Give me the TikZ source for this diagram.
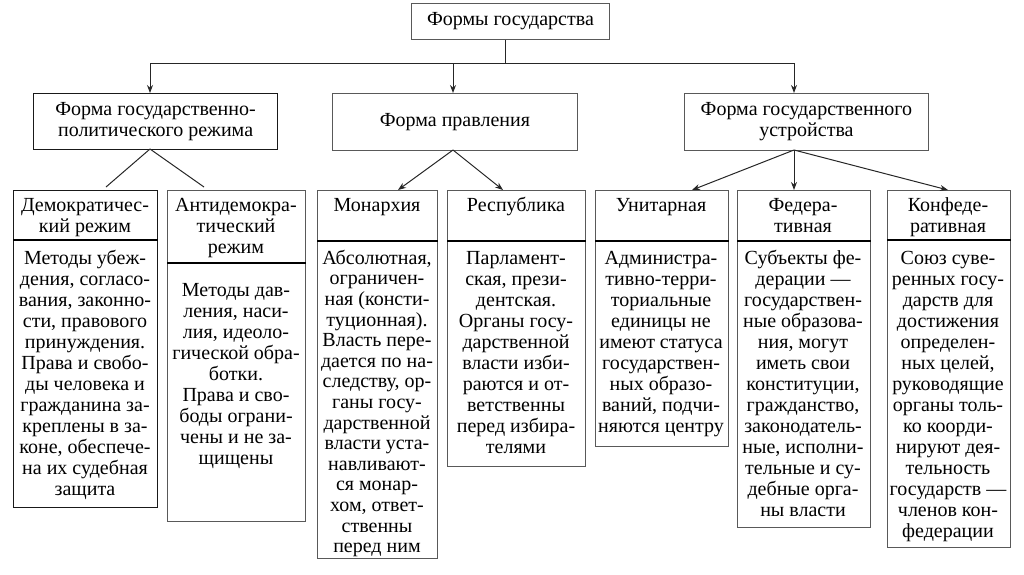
\documentclass[tikz,border=0pt]{standalone}
\usepackage{fontspec}
\setmainfont{Liberation Serif}
\usetikzlibrary{arrows.meta}
\tikzset{
  box/.style={draw=black!65, line width=0.9pt, rectangle, inner sep=0pt, anchor=north west},
  darkbox/.style={box, draw=black!90, line width=1.2pt},
  divider/.style={line width=1.6pt, draw=black},
  txt/.style={font=\fontsize{20}{21}\selectfont, align=center, inner sep=0pt},
  coltxt/.style={txt, anchor=north},
  conn/.style={line width=1pt, draw=black!85},
  arr/.style={conn, -{Stealth[length=8pt,width=6pt]}},
}
\newcommand{\fs}{\rule{0pt}{16pt}}
\newcommand{\colbox}[7]{%
  \node[#7, minimum width=#3-#2, minimum height=#5-#4] (h#1) at (#2,#4) {};
  \node[#7, minimum width=#3-#2, minimum height=#6-#5] (b#1) at (#2,#5) {};
  \draw[divider] (b#1.north west) -- (b#1.north east);
}
\begin{document}
\begin{tikzpicture}[x=1pt, y=-1pt]
\useasboundingbox (0,0) rectangle (1024,574);
% level 1
\node[box, txt, minimum width=198, minimum height=36] (top) at (411,3) {Формы государства};
% level 2
\node[darkbox, txt, minimum width=244, minimum height=56] (la) at (33,93) {Форма государственно-\\политического режима};
\node[box, txt, minimum width=245, minimum height=57] (lb) at (332,93) {Форма правления};
\node[box, txt, minimum width=244, minimum height=57] (lc) at (684,93) {Форма государственного\\устройства};
% top connectors
\coordinate (hb) at (505,63);
\coordinate (hl) at (150,63);
\coordinate (hmid) at (453,63);
\coordinate (hr) at (794,63);
\draw[conn] (hb |- top.south) -- (hb);
\draw[conn] (hl) -- (hr);
\draw[arr] (hl) -- (hl |- la.north);
\draw[arr] (hmid) -- (hmid |- lb.north);
\draw[arr] (hr) -- (hr |- lc.north);
% level 3 boxes
\colbox{1}{13}{157}{190}{240}{507}{darkbox}
\colbox{2}{167}{305}{190}{263}{521}{box}
\colbox{3}{317}{437}{190}{241}{558}{box}
\colbox{4}{447}{585}{190}{241}{466}{box}
\colbox{5}{595}{728}{190}{241}{446}{box}
\colbox{6}{737}{870}{190}{241}{527}{box}
\colbox{7}{887}{1010}{190}{240}{547}{box}
% level 2 -> level 3 connectors
\coordinate (las) at (150,149);
\coordinate (lbs) at (453,150);
\coordinate (lcs) at (794,150);
\coordinate (e1) at (106,187);
\coordinate (e2) at (204,187);
\coordinate (e3) at (398,190);
\coordinate (e4) at (503,190);
\coordinate (e5) at (692,190);
\coordinate (e7) at (948,190);
\draw[conn] (las) -- (e1);
\draw[conn] (las) -- (e2);
\draw[arr] (lbs) -- (e3);
\draw[arr] (lbs) -- (e4);
\draw[arr] (lcs) -- (e5);
\draw[arr] (lcs) -- (lcs |- h6.north);
\draw[arr] (lcs) -- (e7);
% header texts (first baseline ~211)
\node[coltxt] (t1) at (85,195) {\fs Демократичес-\\кий режим};
\node[coltxt] (t2) at (236,195) {\fs Антидемокра-\\тический\\режим};
\node[coltxt] (t3) at (377,195) {\fs Монархия};
\node[coltxt] (t4) at (516,195) {\fs Республика};
\node[coltxt] (t5) at (661,195) {\fs Унитарная};
\node[coltxt] (t6) at (803,195) {\fs Федера-\\тивная};
\node[coltxt] (t7) at (948,195) {\fs Конфеде-\\ративная};
% body texts (first baseline ~264)
\node[coltxt] (d1) at (85,248) {\fs Методы убеж-\\дения, согласо-\\вания, законно-\\сти, правового\\принуждения.\\Права и свобо-\\ды человека и\\гражданина за-\\креплены в за-\\коне, обеспече-\\на их судебная\\защита};
\node[coltxt] (d2) at (236,280) {\fs Методы дав-\\ления, наси-\\лия, идеоло-\\гической обра-\\ботки.\\Права и сво-\\боды ограни-\\чены и не за-\\щищены};
\node[coltxt, font=\fontsize{20}{20.6}\selectfont] (d3) at (377,248) {\fs Абсолютная,\\ограничен-\\ная (консти-\\туционная).\\Власть пере-\\дается по на-\\следству, ор-\\ганы госу-\\дарственной\\власти уста-\\навливают-\\ся монар-\\хом, ответ-\\ственны\\перед ним};
\node[coltxt] (d4) at (516,248) {\fs Парламент-\\ская, прези-\\дентская.\\Органы госу-\\дарственной\\власти изби-\\раются и от-\\ветственны\\перед избира-\\телями};
\node[coltxt] (d5) at (661,248) {\fs Администра-\\тивно-терри-\\ториальные\\единицы не\\имеют статуса\\государствен-\\ных образо-\\ваний, подчи-\\няются центру};
\node[coltxt] (d6) at (803,248) {\fs Субъекты фе-\\дерации —\\государствен-\\ные образова-\\ния, могут\\иметь свои\\конституции,\\гражданство,\\законодатель-\\ные, исполни-\\тельные и су-\\дебные орга-\\ны власти};
\node[coltxt] (d7) at (948,248) {\fs Союз суве-\\ренных госу-\\дарств для\\достижения\\определен-\\ных целей,\\руководящие\\органы толь-\\ко коорди-\\нируют дея-\\тельность\\государств —\\членов кон-\\федерации};
\end{tikzpicture}
\end{document}
